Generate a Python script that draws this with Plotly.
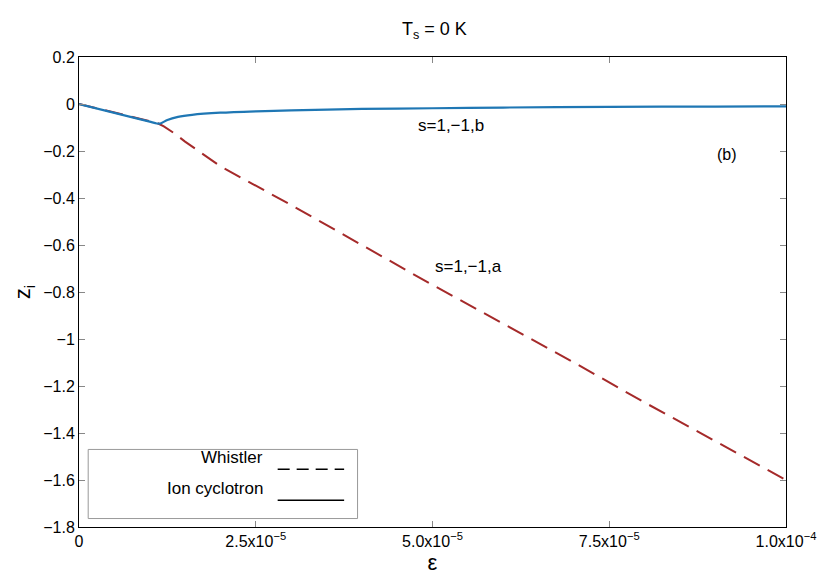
import plotly.graph_objects as go

# Whistler branch (s=1,-1,a)
eps_w = [0, 0.5e-5, 1.0e-5, 1.1e-5, 1.2e-5, 1.35e-5, 1.5e-5, 2.0e-5, 3.0e-5, 4.0e-5,
         5.0e-5, 6.0e-5, 7.0e-5, 8.0e-5, 9.0e-5, 1.0e-4]
z_w = [0, -0.035, -0.07, -0.08, -0.095, -0.125, -0.16, -0.265, -0.43, -0.6,
       -0.77, -0.935, -1.1, -1.27, -1.435, -1.6]

# Ion cyclotron branch (s=1,-1,b)
eps_i = [0, 0.5e-5, 1.0e-5, 1.1e-5, 1.15e-5, 1.25e-5, 1.4e-5, 1.6e-5, 2.0e-5, 2.5e-5,
         3.0e-5, 4.0e-5, 5.0e-5, 6.0e-5, 7.5e-5, 9.0e-5, 1.0e-4]
z_i = [0, -0.038, -0.075, -0.083, -0.083, -0.068, -0.055, -0.046, -0.037, -0.031,
       -0.027, -0.021, -0.018, -0.015, -0.012, -0.011, -0.01]

x_ticks = [0, 2.5e-5, 5.0e-5, 7.5e-5, 1.0e-4]
x_labels = ["0", "2.5x10<sup>−5</sup>", "5.0x10<sup>−5</sup>",
            "7.5x10<sup>−5</sup>", "1.0x10<sup>−4</sup>"]
y_ticks = [0.2, 0, -0.2, -0.4, -0.6, -0.8, -1, -1.2, -1.4, -1.6, -1.8]
y_labels = ["0.2", "0", "−0.2", "−0.4", "−0.6", "−0.8", "−1", "−1.2",
            "−1.4", "−1.6", "−1.8"]

fig = go.Figure()
fig.add_trace(go.Scatter(x=eps_w, y=z_w, mode="lines", name="Whistler",
                         line=dict(color="#a52a2a", width=2, dash="18px,9px")))
fig.add_trace(go.Scatter(x=eps_i, y=z_i, mode="lines", name="Ion cyclotron",
                         line=dict(color="#1f77b4", width=2.2, shape="spline",
                                   smoothing=0.6)))

axis_style = dict(showgrid=False, zeroline=False, showline=True, linecolor="black",
                  linewidth=1, mirror="ticks", ticks="inside", ticklen=6,
                  tickcolor="#888", tickfont=dict(size=16, color="black"))
fig.update_xaxes(range=[0, 1.0e-4], tickvals=x_ticks, ticktext=x_labels,
                 title=dict(text="ε", font=dict(size=22), standoff=0), **axis_style)
fig.update_yaxes(range=[-1.8, 0.2], tickvals=y_ticks, ticktext=y_labels,
                 title=dict(text="z<sub>i</sub>", font=dict(size=22), standoff=6),
                 **axis_style)

fig.add_annotation(x=5.75e-5, y=-0.09, text="s=1,−1,b", showarrow=False,
                   xanchor="right", font=dict(size=17))
fig.add_annotation(x=5.0e-5, y=-0.69, text="s=1,−1,a", showarrow=False,
                   xanchor="left", font=dict(size=17))
fig.add_annotation(x=9.17e-5, y=-0.215, text="(b)", showarrow=False, font=dict(size=16))

# Legend drawn gnuplot-style: text on the left, sample line on the right
fig.add_shape(type="rect", xref="paper", yref="paper", x0=0.013, x1=0.394,
              y0=0.018, y1=0.165, line=dict(color="#999", width=1),
              fillcolor="white")
fig.add_annotation(xref="paper", yref="paper", x=0.263, y=0.123, text="Whistler",
                   showarrow=False, xanchor="right", font=dict(size=17))
fig.add_annotation(xref="paper", yref="paper", x=0.263, y=0.057, text="Ion cyclotron",
                   showarrow=False, xanchor="right", font=dict(size=17))
fig.add_shape(type="line", xref="paper", yref="paper", x0=0.281, x1=0.375,
              y0=0.123, y1=0.123, line=dict(color="black", width=1.5, dash="12px,7px"))
fig.add_shape(type="line", xref="paper", yref="paper", x0=0.281, x1=0.375,
              y0=0.057, y1=0.057, line=dict(color="black", width=1.5))

# page body has an 8px margin, so size the figure to land the plot area where it should
fig.update_layout(
    width=820, height=570,
    margin=dict(l=71, r=39, t=49, b=48),
    title=dict(text="T<sub>s</sub> = 0 K", x=0.52, xanchor="center", y=0.975,
               font=dict(size=18)),
    showlegend=False,
    plot_bgcolor="white", paper_bgcolor="white",
    font=dict(family="Liberation Sans, Arial", color="black"),
)

fig.write_html("out.html")
